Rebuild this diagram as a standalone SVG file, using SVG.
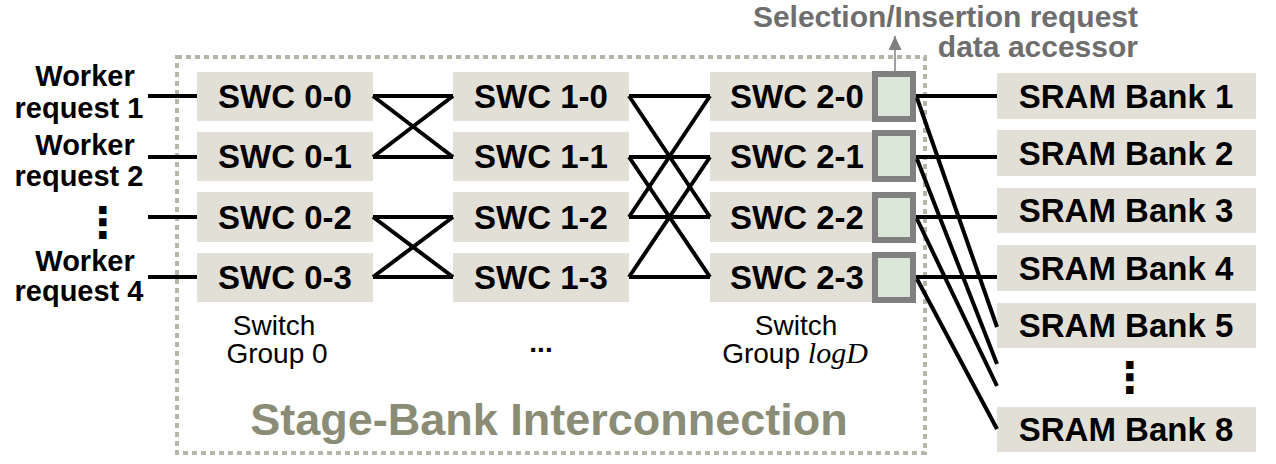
<svg xmlns="http://www.w3.org/2000/svg" width="1276" height="464" viewBox="0 0 1276 464">
<defs>
<style>
.box{fill:#e2dfd6;}
.acc{fill:#dae6d8;stroke:#808080;stroke-width:6;}
.lbl{font-family:"Liberation Sans",Arial,sans-serif;font-weight:bold;font-size:33px;fill:#000;text-anchor:middle;}
.wk{font-family:"Liberation Sans",Arial,sans-serif;font-weight:bold;font-size:29px;fill:#000;text-anchor:middle;}
.grp{font-family:"Liberation Sans",Arial,sans-serif;font-size:28px;fill:#000;text-anchor:middle;}
.ln{stroke:#000;stroke-width:4;fill:none;}
.dots{font-family:"DejaVu Sans",sans-serif;font-weight:bold;font-size:42px;fill:#000;text-anchor:middle;}
</style>
<marker id="ah" viewBox="0 0 10 10" refX="10" refY="5" markerWidth="14" markerHeight="13" markerUnits="userSpaceOnUse" orient="auto" preserveAspectRatio="none">
<path d="M0,0 L10,5 L0,10 z" fill="#808080"/>
</marker>
</defs>
<rect width="1276" height="464" fill="#fff"/>

<g id="interconnect-frame">
<rect x="177" y="57" width="748" height="396" fill="none" stroke="#b5b5a9" stroke-width="4" stroke-dasharray="5 4"/>
<text x="549" y="435" font-family="Liberation Sans,Arial,sans-serif" font-weight="bold" font-size="45" fill="#8a8c76" text-anchor="middle">Stage-Bank Interconnection</text>
</g>

<g id="workers">
<text class="wk" x="85" y="86">Worker</text>
<text class="wk" x="79" y="118">request 1</text>
<text class="wk" x="85" y="155">Worker</text>
<text class="wk" x="79" y="186">request 2</text>
<text class="dots" x="103" y="237">⋮</text>
<text class="wk" x="85" y="271">Worker</text>
<text class="wk" x="79" y="301">request 4</text>
</g>

<g id="group0">
<rect class="box" x="197" y="72" width="176" height="49"/>
<rect class="box" x="197" y="132" width="176" height="49"/>
<rect class="box" x="197" y="192" width="176" height="50"/>
<rect class="box" x="197" y="253" width="176" height="49"/>
<text class="lbl" x="285" y="108">SWC 0-0</text>
<text class="lbl" x="285" y="168">SWC 0-1</text>
<text class="lbl" x="285" y="229">SWC 0-2</text>
<text class="lbl" x="285" y="289">SWC 0-3</text>
<text class="grp" x="274" y="335">Switch</text>
<text class="grp" x="277" y="363">Group 0</text>
</g>

<g id="group1">
<rect class="box" x="453" y="72" width="176" height="49"/>
<rect class="box" x="453" y="132" width="176" height="49"/>
<rect class="box" x="453" y="192" width="176" height="50"/>
<rect class="box" x="453" y="253" width="176" height="49"/>
<text class="lbl" x="541" y="108">SWC 1-0</text>
<text class="lbl" x="541" y="168">SWC 1-1</text>
<text class="lbl" x="541" y="229">SWC 1-2</text>
<text class="lbl" x="541" y="289">SWC 1-3</text>
<text x="541" y="352" font-family="Liberation Sans,Arial,sans-serif" font-weight="bold" font-size="28" text-anchor="middle">...</text>
</g>

<g id="group2">
<rect class="box" x="710" y="72" width="170" height="49"/>
<rect class="box" x="710" y="132" width="170" height="49"/>
<rect class="box" x="710" y="192" width="170" height="50"/>
<rect class="box" x="710" y="253" width="170" height="49"/>
<text class="lbl" x="797" y="108">SWC 2-0</text>
<text class="lbl" x="797" y="168">SWC 2-1</text>
<text class="lbl" x="797" y="229">SWC 2-2</text>
<text class="lbl" x="797" y="289">SWC 2-3</text>
<text class="grp" x="796" y="335">Switch</text>
<text class="grp" x="795" y="363">Group <tspan font-family="Liberation Serif,serif" font-style="italic" font-size="30">logD</tspan></text>
</g>

<g id="accessors">
<rect class="acc" x="875" y="74" width="38" height="45"/>
<rect class="acc" x="875" y="133" width="38" height="46"/>
<rect class="acc" x="875" y="195" width="38" height="45"/>
<rect class="acc" x="875" y="255" width="38" height="45"/>
<text x="1138" y="27" font-family="Liberation Sans,Arial,sans-serif" font-weight="bold" font-size="30" fill="#6e6e6e" text-anchor="end">Selection/Insertion request</text>
<text x="1138" y="57" font-family="Liberation Sans,Arial,sans-serif" font-weight="bold" font-size="30" fill="#6e6e6e" text-anchor="end">data accessor</text>
</g>

<g id="banks">
<rect class="box" x="997" y="73" width="259" height="46"/>
<rect class="box" x="997" y="130" width="259" height="46"/>
<rect class="box" x="997" y="188" width="259" height="45"/>
<rect class="box" x="997" y="245" width="259" height="46"/>
<rect class="box" x="997" y="303" width="259" height="45"/>
<rect class="box" x="997" y="407" width="259" height="45"/>
<text class="lbl" x="1126" y="108">SRAM Bank 1</text>
<text class="lbl" x="1126" y="165">SRAM Bank 2</text>
<text class="lbl" x="1126" y="222">SRAM Bank 3</text>
<text class="lbl" x="1126" y="280">SRAM Bank 4</text>
<text class="lbl" x="1126" y="337">SRAM Bank 5</text>
<text class="dots" x="1130" y="392">⋮</text>
<text class="lbl" x="1126" y="441">SRAM Bank 8</text>
</g>

<g id="connectors">
<line class="ln" x1="148" y1="96" x2="197" y2="96"/>
<line class="ln" x1="148" y1="157" x2="197" y2="157"/>
<line class="ln" x1="148" y1="217" x2="197" y2="217"/>
<line class="ln" x1="148" y1="277" x2="197" y2="277"/>

<line class="ln" x1="373" y1="96" x2="453" y2="96"/>
<line class="ln" x1="373" y1="96" x2="453" y2="157"/>
<line class="ln" x1="373" y1="157" x2="453" y2="157"/>
<line class="ln" x1="373" y1="157" x2="453" y2="96"/>
<line class="ln" x1="373" y1="217" x2="453" y2="217"/>
<line class="ln" x1="373" y1="217" x2="453" y2="277"/>
<line class="ln" x1="373" y1="277" x2="453" y2="277"/>
<line class="ln" x1="373" y1="277" x2="453" y2="217"/>

<line class="ln" x1="629" y1="96" x2="710" y2="96"/>
<line class="ln" x1="629" y1="96" x2="710" y2="217"/>
<line class="ln" x1="629" y1="157" x2="710" y2="157"/>
<line class="ln" x1="629" y1="157" x2="710" y2="277"/>
<line class="ln" x1="629" y1="217" x2="710" y2="217"/>
<line class="ln" x1="629" y1="217" x2="710" y2="96"/>
<line class="ln" x1="629" y1="277" x2="710" y2="277"/>
<line class="ln" x1="629" y1="277" x2="710" y2="157"/>

<line class="ln" x1="916" y1="96" x2="997" y2="96"/>
<line class="ln" x1="916" y1="157" x2="997" y2="157"/>
<line class="ln" x1="916" y1="217" x2="997" y2="217"/>
<line class="ln" x1="916" y1="277" x2="997" y2="277"/>
<line class="ln" x1="917" y1="98" x2="997" y2="327"/>
<line class="ln" x1="917" y1="159" x2="997" y2="364"/>
<line class="ln" x1="917" y1="219" x2="997" y2="386"/>
<line class="ln" x1="917" y1="279" x2="997" y2="429"/>

<line x1="895" y1="71" x2="895" y2="36" stroke="#808080" stroke-width="1.5" marker-end="url(#ah)"/>
</g>
</svg>
